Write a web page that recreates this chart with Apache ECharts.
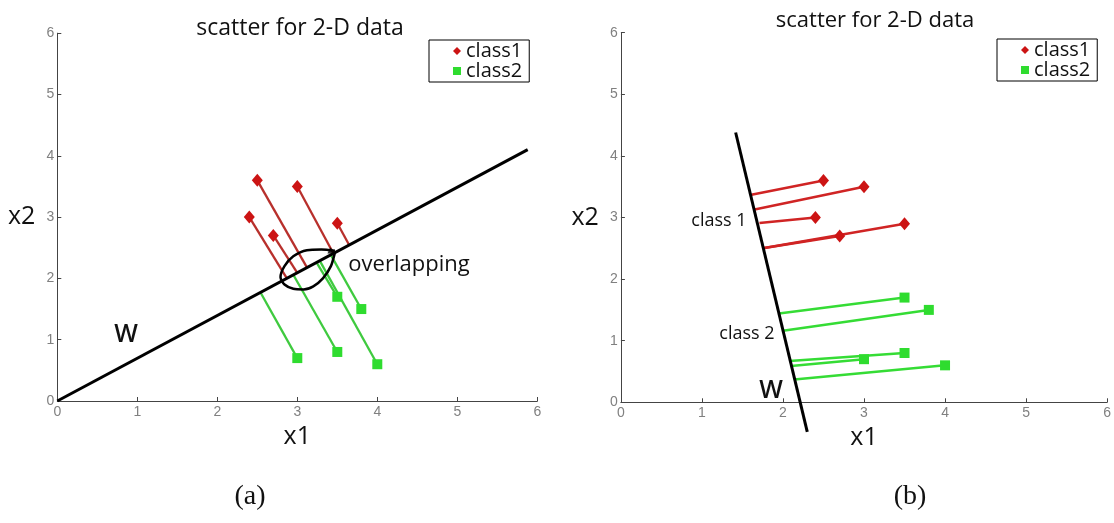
<!DOCTYPE html>
<html>
<head>
<meta charset="utf-8">
<script src="https://cdn.jsdelivr.net/npm/echarts@6/dist/echarts.min.js"></script>
<style>
html,body{margin:0;padding:0;background:#fff;}
#chart{width:1114px;height:523px;}
</style>
</head>
<body>
<div id="chart"></div>
<script>
// ---------- data ----------
const tickValues = [0, 1, 2, 3, 4, 5, 6];
const titleText = 'scatter for 2-D data';
const legendNames = ['class1', 'class2'];

const class1X = [2.5, 3.0, 2.4, 2.7, 3.5];
const class1Y = [3.6, 3.5, 3.0, 2.7, 2.9];
const class2X = [3.5, 3.8, 3.0, 3.5, 4.0];
const class2Y = [1.7, 1.5, 0.7, 0.8, 0.6];

// (a) projection end points on w
const projA1X = [3.12, 3.45, 2.87, 3.00, 3.65];
const projA1Y = [2.18, 2.41, 2.00, 2.09, 2.54];
const projA2X = [3.24, 3.42, 2.54, 2.95, 3.28];
const projA2Y = [2.26, 2.38, 1.77, 2.06, 2.29];

// (b) projection end points on w
const projB1X = [1.61, 1.65, 1.71, 1.75, 1.75];
const projB1Y = [3.37, 3.13, 2.91, 2.50, 2.50];
const projB2X = [1.95, 2.00, 2.10, 2.08, 2.14];
const projB2Y = [1.44, 1.16, 0.59, 0.67, 0.37];

// w directions
const wLineA = [[0, 0], [5.88, 4.10]];
const wLineB = [[1.416, 4.38], [2.30, -0.48]];

// hand-drawn "overlapping" loop
const loopX = [3.47, 3.30, 3.12, 2.95, 2.84, 2.79, 2.84, 2.95, 3.08, 3.20, 3.32, 3.42, 3.47];
const loopY = [2.45, 2.47, 2.46, 2.36, 2.20, 2.02, 1.90, 1.83, 1.82, 1.87, 2.00, 2.20, 2.42];
const arrowTip = [[3.44, 2.43]];

// ---------- build ----------
const zip = (xs, ys) => xs.map((x, i) => [x, ys[i]]);
const segs = (ax, ay, bx, by) => ax.map((x, i) => ({coords: [[x, ay[i]], [bx[i], by[i]]]}));

const RED_M = '#cc1414', GREEN_M = '#2fdc2f';
const fontSans = '"Open Sans", "Liberation Sans", sans-serif';

function axisX(idx, nameGap) {
  return {
    type: 'value', gridIndex: idx,
    min: tickValues[0], max: tickValues[tickValues.length - 1],
    interval: tickValues[1] - tickValues[0],
    name: 'x1', nameLocation: 'middle', nameGap: nameGap,
    nameTextStyle: {fontSize: 25, color: '#111', fontFamily: fontSans},
    axisLine: {show: true, onZero: false, lineStyle: {color: '#444', width: 1}},
    axisTick: {show: true, inside: true, length: 4, lineStyle: {color: '#444'}},
    axisLabel: {color: '#808080', fontSize: 14, margin: 4, fontFamily: '"Liberation Sans", Arial, sans-serif'},
    splitLine: {show: false}
  };
}
function axisY(idx, nameGap) {
  return {
    type: 'value', gridIndex: idx,
    min: tickValues[0], max: tickValues[tickValues.length - 1],
    interval: tickValues[1] - tickValues[0],
    name: 'x2', nameLocation: 'middle', nameGap: nameGap, nameRotate: 0,
    nameTextStyle: {fontSize: 25, color: '#111', fontFamily: fontSans},
    axisLine: {show: true, onZero: false, lineStyle: {color: '#444', width: 1}},
    axisTick: {show: true, inside: true, length: 4, lineStyle: {color: '#444'}},
    axisLabel: {color: '#808080', fontSize: 14, margin: 3, fontFamily: '"Liberation Sans", Arial, sans-serif'},
    splitLine: {show: false}
  };
}

function legendFor(left, top) {
  return {
    data: [{name: legendNames[0], icon: 'diamond'}, {name: legendNames[1], icon: 'rect'}],
    orient: 'vertical', left: left, top: top,
    itemWidth: 8, itemHeight: 8, itemGap: 0,
    padding: [1, 7, 1, 24],
    borderColor: '#000', borderWidth: 1, backgroundColor: '#fff',
    selectedMode: false,
    textStyle: {fontSize: 20, lineHeight: 20, color: '#111', fontFamily: fontSans}
  };
}

function txt(text, x, y, size, family, weight) {
  return {
    type: 'text', x: x, y: y, silent: true,
    style: {
      text: text, fill: '#111',
      font: (weight || 'normal') + ' ' + size + 'px ' + (family || fontSans),
      textAlign: 'center', textVerticalAlign: 'middle',
      align: 'center', verticalAlign: 'middle'
    }
  };
}

const option = {
  animation: false,
  backgroundColor: '#fff',
  title: [
    {text: titleText, left: 295, top: 12, textAlign: 'center',
     textStyle: {fontSize: 23, fontWeight: 'normal', color: '#111', fontFamily: fontSans}},
    {text: titleText, left: 870, top: 5, textAlign: 'center',
     textStyle: {fontSize: 22, fontWeight: 'normal', color: '#111', fontFamily: fontSans}}
  ],
  legend: [legendFor(429, 40), legendFor(997, 39)],
  grid: [
    {left: 57.3, top: 33.2, width: 480, height: 367.8, containLabel: false},
    {left: 620.9, top: 32.7, width: 487.2, height: 369.6, containLabel: false}
  ],
  xAxis: [axisX(0, 22), axisX(1, 22)],
  yAxis: [axisY(0, 22), axisY(1, 22)],
  series: [
    // ---- (a) ----
    {type: 'lines', coordinateSystem: 'cartesian2d', xAxisIndex: 0, yAxisIndex: 0,
     data: segs(class1X, class1Y, projA1X, projA1Y), z: 2,
     lineStyle: {color: '#b8302c', width: 2.3, opacity: 1, curveness: 0}},
    {type: 'lines', coordinateSystem: 'cartesian2d', xAxisIndex: 0, yAxisIndex: 0,
     data: segs(class2X, class2Y, projA2X, projA2Y), z: 2,
     lineStyle: {color: '#3fca3f', width: 2.3, opacity: 1, curveness: 0}},
    {type: 'line', xAxisIndex: 0, yAxisIndex: 0, data: wLineA, showSymbol: false, z: 3,
     lineStyle: {color: '#000', width: 3}, silent: true},
    {type: 'line', xAxisIndex: 0, yAxisIndex: 0, data: zip(loopX, loopY), showSymbol: false,
     smooth: 0.25, z: 4, lineStyle: {color: '#000', width: 2.5}, silent: true},
    {type: 'scatter', xAxisIndex: 0, yAxisIndex: 0, data: arrowTip, symbol: 'triangle',
     symbolSize: [7, 8], symbolRotate: -115, z: 4, itemStyle: {color: '#000'}, silent: true},
    {name: legendNames[0], type: 'scatter', xAxisIndex: 0, yAxisIndex: 0, data: zip(class1X, class1Y),
     symbol: 'diamond', symbolSize: [11, 13], z: 5, itemStyle: {color: RED_M, opacity: 1}},
    {name: legendNames[1], type: 'scatter', xAxisIndex: 0, yAxisIndex: 0, data: zip(class2X, class2Y),
     symbol: 'rect', symbolSize: 10, z: 5, itemStyle: {color: GREEN_M, opacity: 1}},
    // ---- (b) ----
    {type: 'lines', coordinateSystem: 'cartesian2d', xAxisIndex: 1, yAxisIndex: 1,
     data: segs(class1X, class1Y, projB1X, projB1Y), z: 2,
     lineStyle: {color: '#d02424', width: 2.5, opacity: 1, curveness: 0}},
    {type: 'lines', coordinateSystem: 'cartesian2d', xAxisIndex: 1, yAxisIndex: 1,
     data: segs(class2X, class2Y, projB2X, projB2Y), z: 2,
     lineStyle: {color: '#35dc35', width: 2.5, opacity: 1, curveness: 0}},
    {type: 'line', xAxisIndex: 1, yAxisIndex: 1, data: wLineB, showSymbol: false, z: 3, clip: false,
     lineStyle: {color: '#000', width: 3}, silent: true},
    {name: legendNames[0], type: 'scatter', xAxisIndex: 1, yAxisIndex: 1, data: zip(class1X, class1Y),
     symbol: 'diamond', symbolSize: [11, 13], z: 5, itemStyle: {color: RED_M, opacity: 1}},
    {name: legendNames[1], type: 'scatter', xAxisIndex: 1, yAxisIndex: 1, data: zip(class2X, class2Y),
     symbol: 'rect', symbolSize: 10, z: 5, itemStyle: {color: GREEN_M, opacity: 1}}
  ],
  graphic: [
    txt('overlapping', 409, 265, 22),
    txt('W', 126, 335, 25, null, '600'),
    txt('W', 771, 391, 25, null, '600'),
    txt('class 1', 719, 221, 18),
    txt('class 2', 747, 334, 18),
    txt('(a)', 250, 497, 28, '"Liberation Serif", "Times New Roman", serif'),
    txt('(b)', 910, 497, 28, '"Liberation Serif", "Times New Roman", serif')
  ]
};

const chart = echarts.init(document.getElementById('chart'), null, {renderer: 'canvas'});
chart.setOption(option);
</script>
</body>
</html>
